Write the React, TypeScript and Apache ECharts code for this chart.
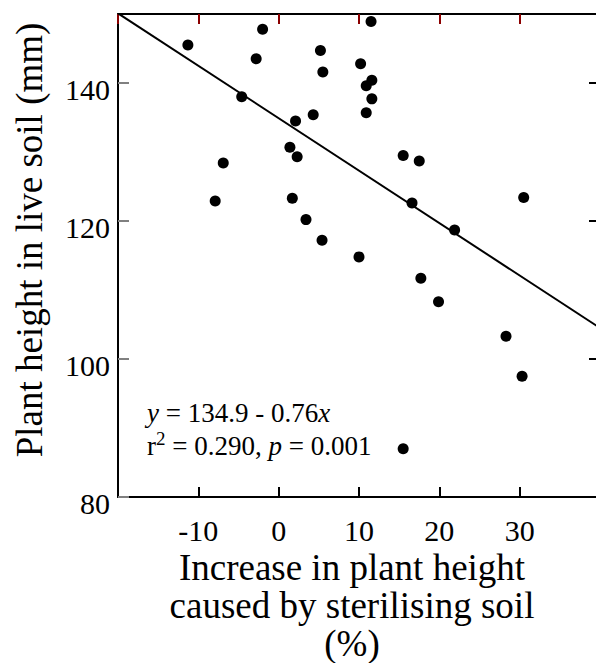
import React, { useEffect, useRef } from "react";
import * as echarts from "echarts";

// Increase in plant height caused by sterilising soil (%)
const increasePct = [
  -11.3, -2.0, -2.8, -4.6, 2.1, 1.4, 2.3, -6.9, -7.9, 1.7,
  11.5, 5.2, 5.5, 10.2, 11.6, 10.9, 11.6, 10.9, 4.3, 15.5,
  17.5, 30.5, 16.6, 21.9, 3.4, 5.4, 10.0, 17.7, 19.9, 28.3,
  30.3, 15.5,
];
// Plant height in live soil (mm)
const liveHeight = [
  145.5, 147.8, 143.5, 138.0, 134.5, 130.7, 129.3, 128.4, 122.9, 123.3,
  148.9, 144.7, 141.6, 142.8, 140.4, 139.6, 137.7, 135.7, 135.4, 129.5,
  128.7, 123.4, 122.6, 118.7, 120.2, 117.2, 114.8, 111.7, 108.3, 103.3,
  97.5, 87.0,
];

// Fitted regression y = a + b x
const fitIntercept = 134.9;
const fitSlope = -0.76;
const fitXRange = [-20, 40];

const xRange = [-20, 40];
const yRange = [80, 150];

const SERIF = "'Liberation Serif', 'Times New Roman', serif";
const INK = "#000";

function frameAxisLine() {
  return { show: true, onZero: false, lineStyle: { color: INK, width: 2 } };
}
function tickIn(len: number, color: string) {
  return { show: true, inside: true, length: len, lineStyle: { color, width: 2 } };
}

export default function App() {
  const ref = useRef<HTMLDivElement>(null);

  useEffect(() => {
    if (!ref.current) return;
    const chart = echarts.init(ref.current, undefined, { renderer: "svg" });

    const points = increasePct.map((x, i) => [x, liveHeight[i]]);
    const fitLine = fitXRange.map((x) => [x, fitIntercept + fitSlope * x]);

    chart.setOption({
      animation: false,
      grid: { left: 118, top: 14, right: 4, bottom: 166 },
      xAxis: [
        {
          type: "value",
          position: "bottom",
          min: xRange[0],
          max: xRange[1],
          interval: 10,
          splitLine: { show: false },
          axisLine: frameAxisLine(),
          axisTick: tickIn(10, "#000000"),
          axisLabel: {
            showMinLabel: false,
            showMaxLabel: false,
            margin: 18,
            fontFamily: SERIF,
            fontSize: 30,
            lineHeight: 30,
            color: INK,
          },
        },
        {
          type: "value",
          position: "top",
          min: xRange[0],
          max: xRange[1],
          interval: 10,
          splitLine: { show: false },
          axisLine: frameAxisLine(),
          axisTick: tickIn(10, "#8b0000"),
          axisLabel: { show: false },
        },
      ],
      yAxis: [
        {
          type: "value",
          position: "left",
          min: yRange[0],
          max: yRange[1],
          interval: 20,
          splitLine: { show: false },
          axisLine: frameAxisLine(),
          axisTick: tickIn(11, "#808080"),
          axisLabel: {
            showMaxLabel: false,
            margin: 8,
            fontFamily: SERIF,
            fontSize: 30,
            lineHeight: 12,
            verticalAlign: "top",
            color: INK,
          },
        },
        {
          type: "value",
          position: "right",
          min: yRange[0],
          max: yRange[1],
          interval: 20,
          splitLine: { show: false },
          axisLine: frameAxisLine(),
          axisTick: tickIn(11, "#000000"),
          axisLabel: { show: false },
        },
      ],
      series: [
        {
          type: "line",
          data: fitLine,
          symbol: "none",
          clip: true,
          lineStyle: { color: INK, width: 2 },
          z: 2,
        },
        {
          type: "scatter",
          data: points,
          symbol: "circle",
          symbolSize: 11,
          itemStyle: { color: INK, opacity: 1 },
          z: 3,
        },
      ],
      graphic: [
        {
          type: "text",
          x: 29,
          y: 240,
          rotation: Math.PI / 2,
          style: {
            text: "Plant height in live soil (mm)",
            fontFamily: SERIF,
            fontSize: 37,
            fill: INK,
            align: "center",
            verticalAlign: "middle",
          },
        },
        {
          type: "text",
          x: 352,
          y: 548,
          style: {
            text: "Increase in plant height\ncaused by sterilising soil\n(%)",
            fontFamily: SERIF,
            fontSize: 37,
            lineHeight: 38,
            fill: INK,
            align: "center",
            verticalAlign: "top",
          },
        },
        {
          type: "text",
          x: 147,
          y: 396,
          style: {
            text: "{i|y} = 134.9 - 0.76{i|x}\nr{sup|2} = 0.290, {i|p} = 0.001",
            fontFamily: SERIF,
            fontSize: 27,
            lineHeight: 33,
            fill: INK,
            align: "left",
            verticalAlign: "top",
            rich: {
              i: { fontFamily: SERIF, fontSize: 27, fontStyle: "italic", fill: INK, lineHeight: 33 },
              sup: { fontFamily: SERIF, fontSize: 19, fill: INK, verticalAlign: "top", lineHeight: 33 },
            },
          },
        },
      ],
    });

    return () => chart.dispose();
  }, []);

  return (
    <div style={{ position: "fixed", left: 0, top: 0, width: 596, height: 663, overflow: "hidden", background: "#fff" }}>
      <div ref={ref} style={{ width: 604, height: 663 }} />
    </div>
  );
}
